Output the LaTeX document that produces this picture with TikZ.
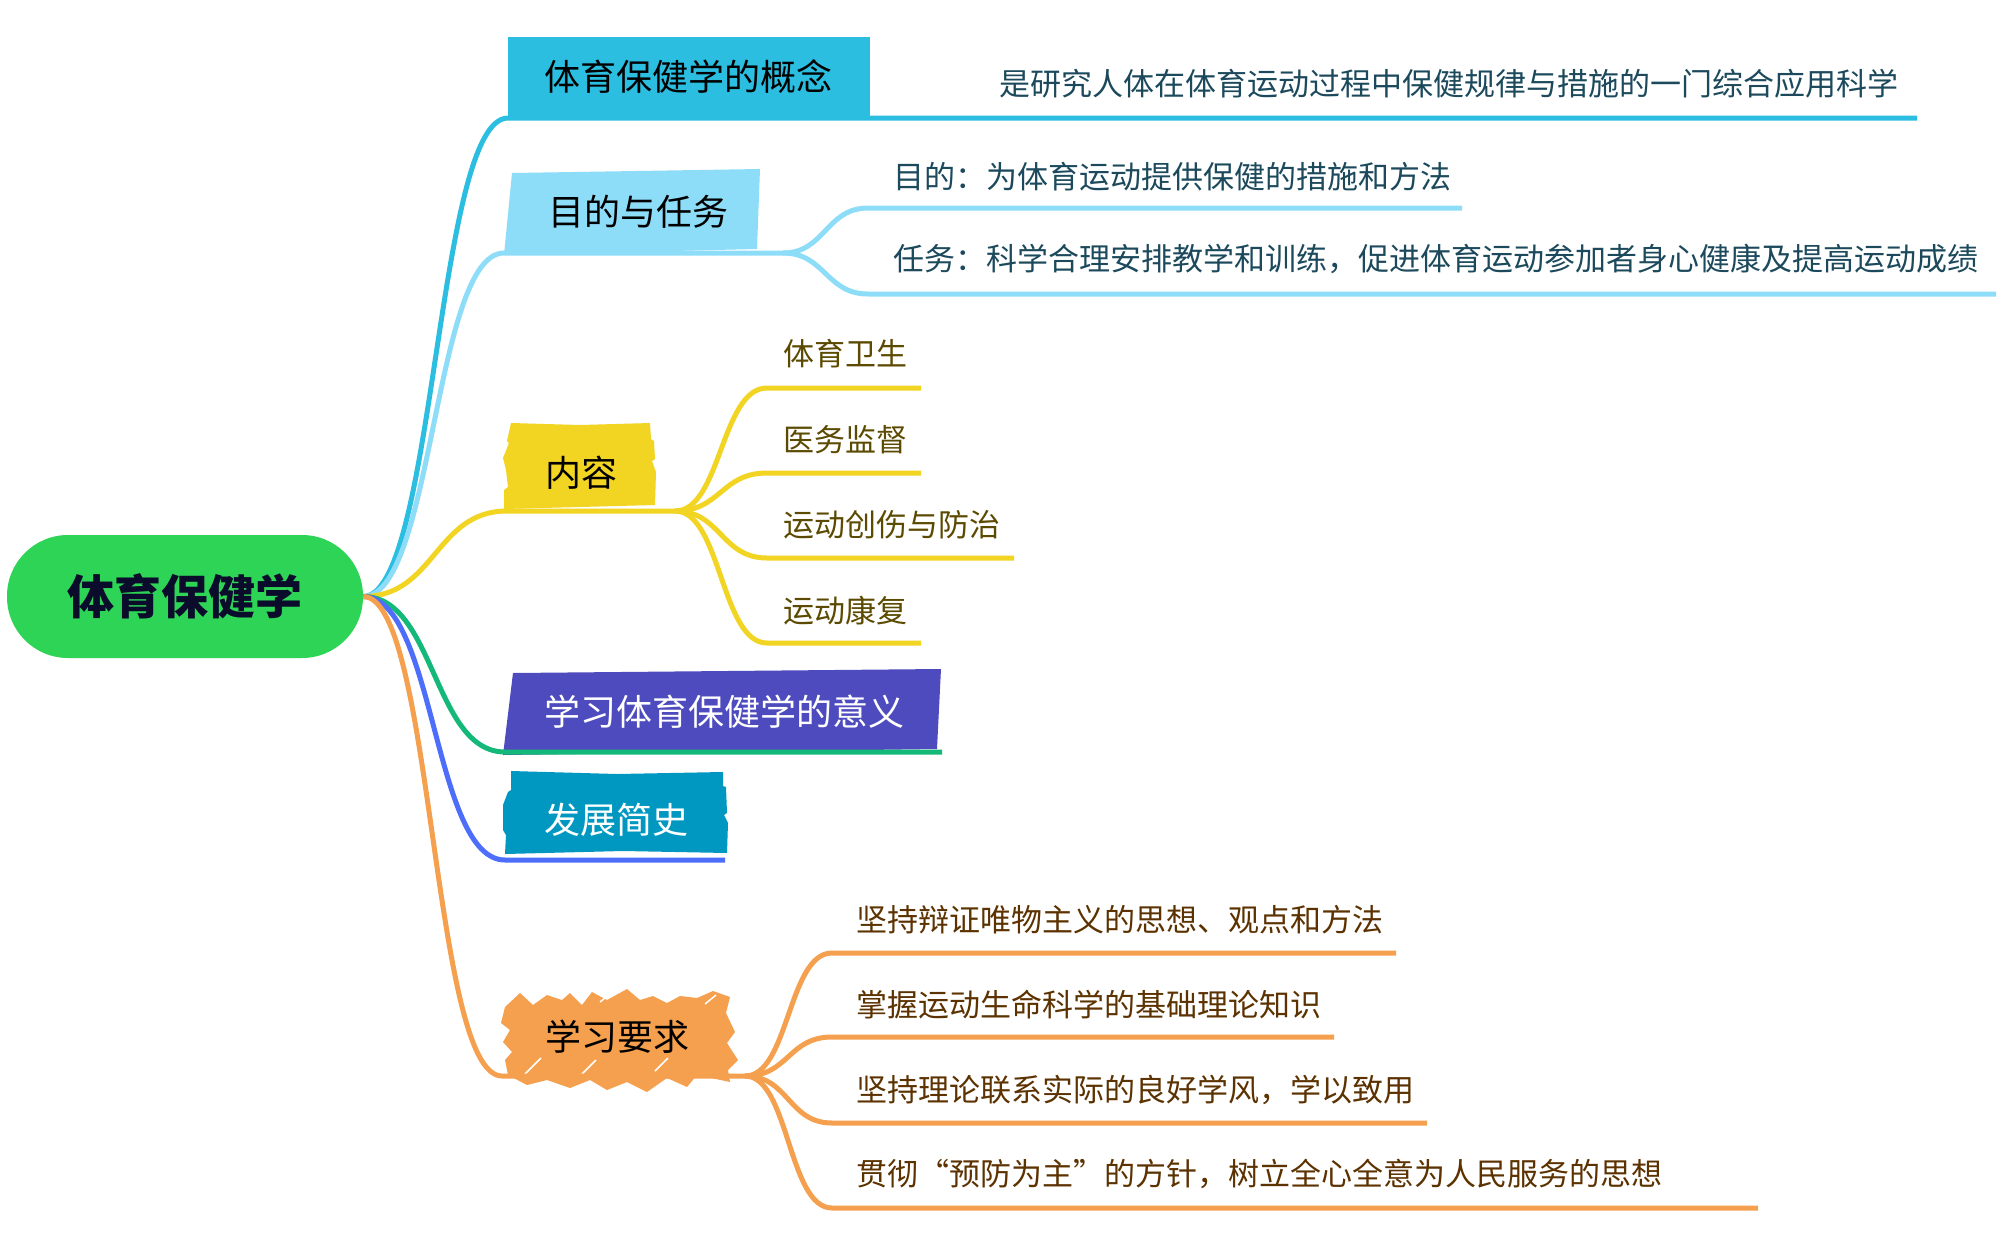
\documentclass[tikz,border=0pt]{standalone}
\usepackage{fontspec}
\setmainfont{Noto Sans CJK SC}
\definecolor{rootgreen}{HTML}{2DD455}
\definecolor{rootink}{HTML}{0B0B2B}
\definecolor{cA}{HTML}{2BBEE0}
\definecolor{cB}{HTML}{8EDDF8}
\definecolor{cC}{HTML}{F2D422}
\definecolor{cD}{HTML}{4E4BBE}
\definecolor{cDline}{HTML}{14B979}
\definecolor{cE}{HTML}{0098C0}
\definecolor{cEline}{HTML}{4D6EFA}
\definecolor{cF}{HTML}{F5A04E}
\definecolor{tBlue}{HTML}{1C4A5C}
\definecolor{tOlive}{HTML}{5C4A00}
\definecolor{tBrown}{HTML}{5C3200}
\begin{document}
\begin{tikzpicture}[x=1pt,y=-1pt,
  lnk/.style={line width=5pt},
  crv/.style={out=0,in=180,distance=#1},
  mainlbl/.style={anchor=west,inner sep=0pt,font=\fontsize{36}{43}\selectfont},
  sublbl/.style={anchor=west,inner sep=0pt,font=\fontsize{31}{37}\selectfont},
]
\useasboundingbox[fill=white] (0,0) rectangle (2008,1232);

% ---------- boxes ----------
\fill[cA] (508,37) rectangle (870,116);
\fill[cB] (512,173) -- (760,169) -- (757,249) -- (504,255) -- cycle;
\fill[cC] (511,423) -- (580,425) -- (650,423) -- (651,439) -- (654,441) -- (655,459) -- (652,461)
  -- (656,472) -- (655,505) -- (580,507) -- (504,509) -- (504,490) -- (508,487) -- (506,470)
  -- (503,458) -- (509,443) -- (507,441) -- cycle;
\fill[cD] (513,673) -- (941,669) -- (937,749) -- (503,755) -- cycle;
\fill[cE] (511,771) -- (617,774) -- (723,772) -- (723,786) -- (726,787) -- (727,813) -- (724,815)
  -- (728,823) -- (727,853) -- (623,851) -- (505,854) -- (506,835) -- (503,830) -- (503,805)
  -- (508,792) -- (511,790) -- cycle;
\fill[cF] (501,1023) -- (505,1007) -- (520,993) -- (533,1005) -- (547,995) -- (562,1000) -- (570,993)
  -- (582,1005) -- (592,992) -- (607,1000) -- (627,989) -- (640,1000) -- (653,996) -- (667,1003)
  -- (680,996) -- (697,998) -- (713,991) -- (730,997) -- (726,1013) -- (735,1032) -- (727,1043)
  -- (738,1060) -- (728,1070) -- (730,1082) -- (697,1075) -- (687,1087) -- (667,1078) -- (647,1092)
  -- (627,1082) -- (607,1090) -- (590,1080) -- (570,1088) -- (547,1080) -- (527,1085) -- (508,1075)
  -- (505,1060) -- (512,1052) -- (503,1042) -- (510,1030) -- cycle;
\draw[white,line width=1.5pt] (525,1074) -- (541,1058) (582,1074) -- (596,1060) (655,1071) -- (668,1058)
  (705,1004) -- (716,995) (600,1002) -- (610,994);

% ---------- anchors ----------
\node[fill=rootgreen,rounded corners=61pt,minimum width=356pt,minimum height=123pt,inner sep=0pt,
  text=rootink,font=\fontsize{47}{56}\selectfont\bfseries] (root) at (185,596.5) {体育保健学};

\coordinate (b1s) at (508,118);  \coordinate (b1e) at (870,118);  \coordinate (c11e) at (1917,118);
\coordinate (b2s) at (504,253);  \coordinate (b2e) at (783,253);
\coordinate (c21s) at (868,208); \coordinate (c21e) at (1462,208);
\coordinate (c22s) at (868,294); \coordinate (c22e) at (1996,294);
\coordinate (b3s) at (507,511);  \coordinate (b3e) at (675,511);
\coordinate (c31s) at (767,388); \coordinate (c31e) at (921,388);
\coordinate (c32s) at (767,473); \coordinate (c32e) at (921,473);
\coordinate (c33s) at (767,558); \coordinate (c33e) at (1014,558);
\coordinate (c34s) at (767,643); \coordinate (c34e) at (921,643);
\coordinate (b4s) at (505,752);  \coordinate (b4e) at (942,752);
\coordinate (b5s) at (505,860);  \coordinate (b5e) at (725,860);
\coordinate (b6s) at (502,1076); \coordinate (b6e) at (745,1076);
\coordinate (c61s) at (832,953);  \coordinate (c61e) at (1396,953);
\coordinate (c62s) at (832,1037); \coordinate (c62e) at (1334,1037);
\coordinate (c63s) at (832,1123); \coordinate (c63e) at (1427,1123);
\coordinate (c64s) at (832,1208); \coordinate (c64e) at (1758,1208);

% ---------- connectors ----------
\draw[lnk,cA] (root.east) to[crv=72pt] (b1s) -- (b1e) -- (c11e);
\draw[lnk,cB] (root.east) to[crv=70pt] (b2s) -- (b2e);
\draw[lnk,cB] (b2e) to[crv=42pt] (c21s) -- (c21e);
\draw[lnk,cB] (b2e) to[crv=42pt] (c22s) -- (c22e);
\draw[lnk,cC] (root.east) to[crv=72pt] (b3s) -- (b3e);
\draw[lnk,cC] (b3e) to[crv=46pt] (c31s) -- (c31e);
\draw[lnk,cC] (b3e) to[crv=46pt] (c32s) -- (c32e);
\draw[lnk,cC] (b3e) to[crv=46pt] (c33s) -- (c33e);
\draw[lnk,cC] (b3e) to[crv=46pt] (c34s) -- (c34e);
\draw[lnk,cDline] (root.east) to[crv=72pt] (b4s) -- (b4e);
\draw[lnk,cEline] (root.east) to[crv=72pt] (b5s) -- (b5e);
\draw[lnk,cF] (root.east) to[crv=70pt] (b6s) -- (b6e);
\draw[lnk,cF] (b6e) to[crv=44pt] (c61s) -- (c61e);
\draw[lnk,cF] (b6e) to[crv=44pt] (c62s) -- (c62e);
\draw[lnk,cF] (b6e) to[crv=44pt] (c63s) -- (c63e);
\draw[lnk,cF] (b6e) to[crv=44pt] (c64s) -- (c64e);

% ---------- labels ----------
\node[mainlbl,text=black] (b1) at (544,77) {体育保健学的概念};
\node[sublbl,text=tBlue] (c11) at (999,84) {是研究人体在体育运动过程中保健规律与措施的一门综合应用科学};
\node[mainlbl,text=black] (b2) at (548,212) {目的与任务};
\node[sublbl,text=tBlue] (c21) at (893,177) {目的：为体育运动提供保健的措施和方法};
\node[sublbl,text=tBlue] (c22) at (893,259) {任务：科学合理安排教学和训练，促进体育运动参加者身心健康及提高运动成绩};
\node[mainlbl,text=black] (b3) at (545,473) {内容};
\node[sublbl,text=tOlive] (c31) at (783,354) {体育卫生};
\node[sublbl,text=tOlive] (c32) at (783,440) {医务监督};
\node[sublbl,text=tOlive] (c33) at (783,525) {运动创伤与防治};
\node[sublbl,text=tOlive] (c34) at (783,611) {运动康复};
\node[mainlbl,text=white] (b4) at (544,712) {学习体育保健学的意义};
\node[mainlbl,text=white] (b5) at (544,820) {发展简史};
\node[mainlbl,text=black] (b6) at (545,1037) {学习要求};
\node[sublbl,text=tBrown] (c61) at (856,920) {坚持辩证唯物主义的思想、观点和方法};
\node[sublbl,text=tBrown] (c62) at (856,1005) {掌握运动生命科学的基础理论知识};
\node[sublbl,text=tBrown] (c63) at (856,1090) {坚持理论联系实际的良好学风，学以致用};
\node[sublbl,text=tBrown] (c64) at (856,1174) {贯彻“预防为主”的方针，树立全心全意为人民服务的思想};
\end{tikzpicture}
\end{document}
